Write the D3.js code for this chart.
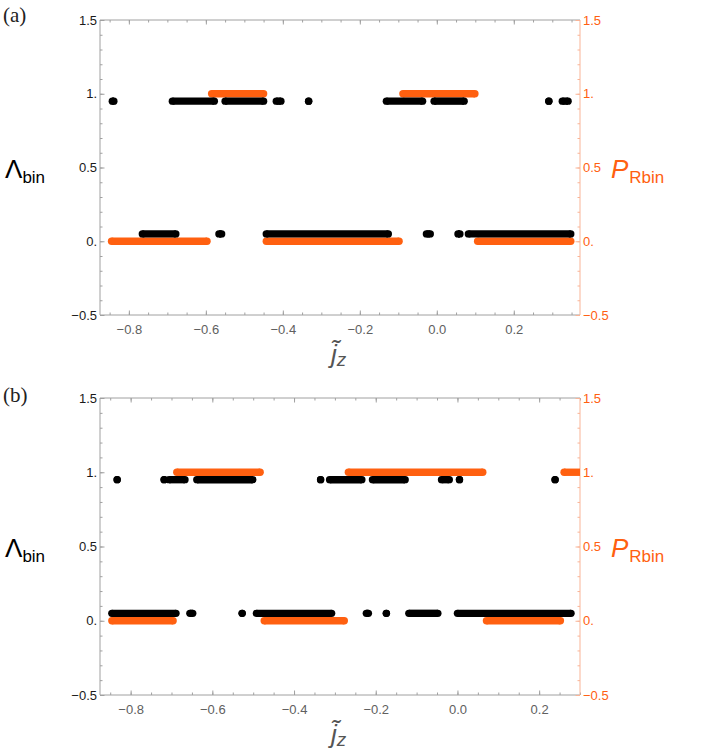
<!DOCTYPE html>
<html>
<head>
<meta charset="utf-8">
<script src="https://cdn.jsdelivr.net/npm/d3@7"></script>
<style>
  html, body { margin: 0; padding: 0; background: #fff; }
  svg { display: block; }
</style>
</head>
<body>
<div id="app"></div>
<script>
// runs of dense points: [start, end] in j~z ; a single dot has start == end
const lambdaHighA = [[-0.843, -0.839], [-0.687, -0.578], [-0.550, -0.450], [-0.417, -0.405], [-0.333, -0.333],
  [-0.131, -0.037], [-0.007, 0.071], [0.291, 0.291], [0.326, 0.341]];
const lambdaLowA = [[-0.765, -0.678], [-0.566, -0.559], [-0.443, -0.126], [-0.027, -0.017], [0.055, 0.060], [0.082, 0.348]];
const pHighA = [[-0.585, -0.450], [-0.088, 0.099]];
const pLowA = [[-0.845, -0.597], [-0.443, -0.098], [0.106, 0.348]];

const lambdaHighB = [[-0.833, -0.833], [-0.718, -0.718], [-0.706, -0.667], [-0.638, -0.501], [-0.335, -0.335],
  [-0.313, -0.234], [-0.208, -0.128], [-0.039, -0.020], [0.005, 0.005], [0.239, 0.239]];
const lambdaLowB = [[-0.846, -0.689], [-0.655, -0.648], [-0.527, -0.527], [-0.492, -0.308], [-0.223, -0.218],
  [-0.174, -0.174], [-0.119, -0.048], [0.000, 0.278]];
const pHighB = [[-0.687, -0.483], [-0.267, 0.062], [0.261, 0.320]];
const pLowB = [[-0.846, -0.696], [-0.473, -0.277], [0.071, 0.252]];

// plotted levels (Lambda shifted a little so both series stay visible)
const lambdaLevels = [0.05, 0.95];
const pLevels = [0, 1];

const xTicks = [-0.8, -0.6, -0.4, -0.2, 0.0, 0.2];
const xTickLabels = ["\u22120.8", "\u22120.6", "\u22120.4", "\u22120.2", "0.0", "0.2"];
const yTicks = [-0.5, 0, 0.5, 1, 1.5];
const yTickLabels = ["\u22120.5", "0.", "0.5", "1.", "1.5"];

const width = 702;
const height = 752;
const black = "#000";
const orange = "#ff6010";
const orangeAxis = "#f9b497";
const grayAxis = "#a0a0a0";
const dotR = 3.7;

const svg = d3.select("#app").append("svg")
  .attr("width", width).attr("height", height)
  .style("font-family", "'Liberation Sans', Arial, sans-serif");

const panels = [
  { id: "a", label: "(a)", xDomain: [-0.875, 0.372], top: 20, bottom: 315, labelY: 22,
    lHigh: lambdaHighA, lLow: lambdaLowA, pHigh: pHighA, pLow: pLowA },
  { id: "b", label: "(b)", xDomain: [-0.875, 0.30], top: 398, bottom: 695, labelY: 402,
    lHigh: lambdaHighB, lLow: lambdaLowB, pHigh: pHighB, pLow: pLowB }
];

const left = 100, right = 580;

panels.forEach((p) => {
  const x = d3.scaleLinear().domain(p.xDomain).range([left, right]);
  const y = d3.scaleLinear().domain([-0.5, 1.5]).range([p.bottom, p.top]);
  const g = svg.append("g").attr("id", "panel-" + p.id);

  const minorX = d3.range(-0.85, p.xDomain[1] + 1e-9, 0.05).map((v) => +v.toFixed(2));
  const minorY = d3.range(-0.5, 1.5001, 0.1).map((v) => +v.toFixed(1));

  // bottom axis
  const bx = g.append("g").attr("transform", `translate(0,${p.bottom})`);
  bx.call(d3.axisTop(x).tickValues(minorX).tickSize(2.5).tickFormat(""));
  bx.append("g").call(d3.axisTop(x).tickValues(xTicks).tickSize(4.5).tickFormat(""))
    .select(".domain").remove();
  bx.select("path.domain").attr("d", `M${left},0H${right}`);
  g.append("g").attr("transform", `translate(0,${p.bottom})`)
    .call(d3.axisBottom(x).tickValues(xTicks).tickSize(0).tickPadding(10)
      .tickFormat((d, i) => xTickLabels[i]))
    .call((s) => s.select(".domain").remove())
    .selectAll("text").attr("fill", "#606060").style("font-size", "13px");

  // top axis (ticks only)
  const tx = g.append("g").attr("transform", `translate(0,${p.top})`);
  tx.call(d3.axisBottom(x).tickValues(minorX).tickSize(2.5).tickFormat(""));
  tx.append("g").call(d3.axisBottom(x).tickValues(xTicks).tickSize(4.5).tickFormat(""))
    .select(".domain").remove();
  tx.select("path.domain").attr("d", `M${left},0H${right}`);
  [bx, tx].forEach((s) => s.selectAll("path, line").attr("stroke", grayAxis));

  // left axis
  const ly = g.append("g").attr("transform", `translate(${left},0)`);
  ly.call(d3.axisRight(y).tickValues(minorY).tickSize(2.5).tickFormat(""));
  ly.append("g").call(d3.axisRight(y).tickValues(yTicks).tickSize(4.5).tickFormat(""))
    .select(".domain").remove();
  ly.select("path.domain").attr("d", `M0,${p.top}V${p.bottom}`);
  ly.selectAll("path, line").attr("stroke", grayAxis);
  g.append("g").attr("transform", `translate(${left},0)`)
    .call(d3.axisLeft(y).tickValues(yTicks).tickSize(0).tickPadding(3)
      .tickFormat((d, i) => yTickLabels[i]))
    .call((s) => s.select(".domain").remove())
    .selectAll("text").attr("fill", "#1a1a1a").style("font-size", "13px");

  // right axis
  const ry = g.append("g").attr("transform", `translate(${right},0)`);
  ry.call(d3.axisLeft(y).tickValues(minorY).tickSize(2.5).tickFormat(""));
  ry.append("g").call(d3.axisLeft(y).tickValues(yTicks).tickSize(4.5).tickFormat(""))
    .select(".domain").remove();
  ry.select("path.domain").attr("d", `M0,${p.top}V${p.bottom}`);
  ry.selectAll("path, line").attr("stroke", orangeAxis);
  g.append("g").attr("transform", `translate(${right},0)`)
    .call(d3.axisRight(y).tickValues(yTicks).tickSize(0).tickPadding(3)
      .tickFormat((d, i) => yTickLabels[i]))
    .call((s) => s.select(".domain").remove())
    .selectAll("text").attr("fill", orange).style("font-size", "13px");

  // clip
  g.append("clipPath").attr("id", "clip-" + p.id)
    .append("rect").attr("x", left).attr("y", p.top)
    .attr("width", right - left).attr("height", p.bottom - p.top);
  const plot = g.append("g").attr("clip-path", `url(#clip-${p.id})`);

  const series = [
    { runs: p.pLow, level: pLevels[0], color: orange },
    { runs: p.pHigh, level: pLevels[1], color: orange },
    { runs: p.lLow, level: lambdaLevels[0], color: black },
    { runs: p.lHigh, level: lambdaLevels[1], color: black }
  ];
  series.forEach((s) => {
    const sg = plot.append("g");
    sg.selectAll("line").data(s.runs).enter().append("line")
      .attr("x1", (d) => x(d[0])).attr("x2", (d) => x(d[1]))
      .attr("y1", y(s.level)).attr("y2", y(s.level))
      .attr("stroke", s.color).attr("stroke-width", dotR * 2);
    sg.selectAll("circle").data(s.runs.flatMap((d) => [d[0], d[1]])).enter().append("circle")
      .attr("cx", (d) => x(d)).attr("cy", y(s.level)).attr("r", dotR)
      .attr("fill", s.color);
  });

  // axis titles
  const midY = y(0.5);
  const lt = g.append("text").attr("x", 5).attr("y", midY + 10).attr("fill", black);
  lt.append("tspan").style("font-size", "26px").text("\u039b");
  lt.append("tspan").attr("dy", 5).style("font-size", "17px").text("bin");

  const rt = g.append("text").attr("x", 611).attr("y", midY + 10).attr("fill", orange);
  rt.append("tspan").style("font-size", "26px").style("font-style", "italic").text("P");
  rt.append("tspan").attr("dy", 5).attr("dx", 1).style("font-size", "17px").text("Rbin");

  const bt = g.append("text").attr("x", 331).attr("y", p.bottom + 48).attr("fill", "#555");
  bt.append("tspan").style("font-size", "26px").style("font-style", "italic").text("j\u0303");
  bt.append("tspan").attr("dy", 3).style("font-size", "19px").style("font-style", "italic").text("z");

  g.append("text").attr("x", 3).attr("y", p.labelY)
    .style("font-family", "'Liberation Serif', 'DejaVu Serif', serif")
    .style("font-size", "21px").attr("fill", "#222").text(p.label);
});
</script>
</body>
</html>
